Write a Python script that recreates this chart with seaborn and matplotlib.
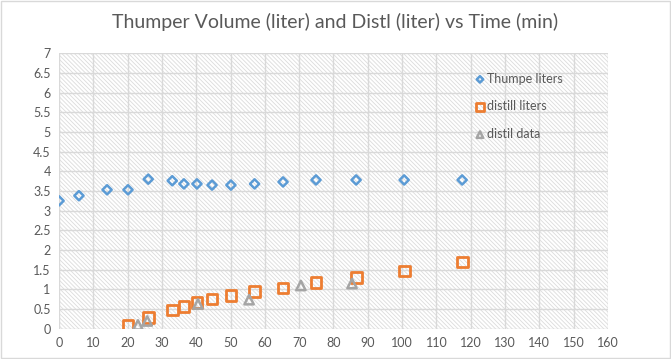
import matplotlib
matplotlib.use("Agg")
import matplotlib.pyplot as plt
import seaborn as sns
from matplotlib.patches import Rectangle

# Thumper volume (liters) vs time (min)
thump_time = [0, 5.8, 14, 20.1, 26, 33, 36.4, 40.2, 44.6, 50.1, 57, 65.3, 74.9, 86.6, 100.6, 117.5]
thump_liters = [3.25, 3.38, 3.53, 3.53, 3.8, 3.76, 3.68, 3.68, 3.65, 3.65, 3.68, 3.73, 3.78, 3.78, 3.78, 3.78]

# distillate (liters) vs time (min)
distill_time = [20.1, 26, 33, 36.4, 40.2, 44.6, 50.1, 57, 65.3, 74.9, 86.6, 100.6, 117.5]
distill_liters = [0.1, 0.28, 0.48, 0.56, 0.66, 0.76, 0.84, 0.94, 1.04, 1.17, 1.3, 1.47, 1.7]

# measured distillate
data_time = [23, 25.7, 40.5, 55.4, 70.5, 85.4]
data_liters = [0.1, 0.2, 0.63, 0.74, 1.1, 1.15]

sns.set_style("white")
plt.rcParams['font.family'] = ['Lato', 'DejaVu Sans']
plt.rcParams['hatch.color'] = '#dcdcdc'
plt.rcParams['hatch.linewidth'] = 0.6

text_gray = '#595959'

fig = plt.figure(figsize=(6.71, 3.59), dpi=100)
ax = fig.add_axes([0.088, 0.084, 0.818, 0.768])

# hatched plot area background
ax.add_patch(Rectangle((0, 0), 1, 1, transform=ax.transAxes, facecolor='white',
                       edgecolor='#dcdcdc', hatch='\\' * 8, lw=0, zorder=0))

sns.scatterplot(x=thump_time, y=thump_liters, ax=ax, marker='D', s=22,
                facecolor='none', edgecolor='#5B9BD5', linewidth=1.8,
                label='Thumpe liters', zorder=3)
sns.scatterplot(x=distill_time, y=distill_liters, ax=ax, marker='s', s=60,
                facecolor='none', edgecolor='#ED7D31', linewidth=2,
                label='distill liters', zorder=3)
sns.scatterplot(x=data_time, y=data_liters, ax=ax, marker='^', s=45,
                facecolor='none', edgecolor='#A5A5A5', linewidth=1.8,
                label='distil data', zorder=3)

ax.set_xlim(0, 160)
ax.set_ylim(0, 7)
ax.set_xticks(range(0, 161, 10))
ax.set_yticks([i * 0.5 for i in range(15)])
ax.set_yticklabels([f"{i * 0.5:g}" for i in range(15)])
ax.grid(True, color='#d9d9d9', lw=1, zorder=1)
ax.set_axisbelow(True)
for s in ax.spines.values():
    s.set_visible(False)
ax.tick_params(length=0, labelsize=9, colors=text_gray, pad=6)

fig.suptitle('Thumper Volume (liter) and Distl (liter) vs Time (min)',
             color=text_gray, fontsize=14, y=0.965)

leg = ax.legend(loc='upper left', bbox_to_anchor=(0.735, 0.97), frameon=False,
                fontsize=9, handletextpad=0.1, labelspacing=1.25,
                handlelength=1.0, markerscale=0.7)
for t in leg.get_texts():
    t.set_color(text_gray)

fig.add_artist(Rectangle((0.001, 0.002), 0.997, 0.995, transform=fig.transFigure,
                         fill=False, edgecolor='#d9d9d9', lw=1))

fig.savefig('out.png', dpi=100)
